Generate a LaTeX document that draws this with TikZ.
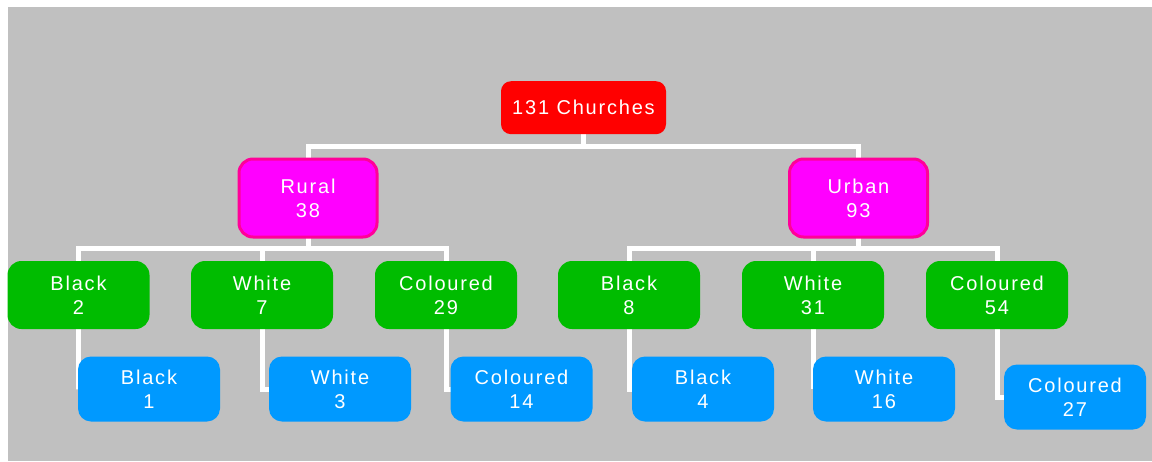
\documentclass[tikz,border=0pt]{standalone}
\usepackage{fontspec}
\setmainfont{Liberation Sans}
\newfontfamily\lsfont[LetterSpace=9]{Liberation Sans}
\definecolor{bggray}{HTML}{C0C0C0}
\definecolor{rootred}{HTML}{FF0000}
\definecolor{magfill}{HTML}{FF00FF}
\definecolor{magline}{HTML}{FF0099}
\definecolor{grn}{HTML}{00BC00}
\definecolor{blu}{HTML}{0099FF}
\pgfdeclarelayer{bglayer}
\pgfdeclarelayer{linelayer}
\pgfsetlayers{bglayer,linelayer,main}
\tikzset{
  box/.style={inner sep=0pt, outer sep=0pt, align=center, text=white,
    font=\lsfont\fontsize{20}{24}\selectfont},
  rootbox/.style={box, fill=rootred, rounded corners=10pt, minimum width=165pt, minimum height=53pt},
  midbox/.style={box, fill=magfill, draw=magline, line width=3pt, rounded corners=14pt, minimum width=138pt, minimum height=78pt},
  grnbox/.style={box, fill=grn, rounded corners=14pt, minimum width=142pt, minimum height=68pt},
  blubox/.style={box, fill=blu, rounded corners=13pt, minimum width=142pt, minimum height=65pt},
  conn/.style={draw=white, line width=5pt}
}
\begin{document}
\begin{tikzpicture}[x=1pt,y=-1pt]
\useasboundingbox (0,0) rectangle (1152,461);
\begin{pgfonlayer}{bglayer}
\fill[bggray] (8,7) rectangle (1152,461);
\end{pgfonlayer}
\node[rootbox] (root) at (583.5,107.7) {131 Churches};
\node[midbox] (rural) at (308,198) {Rural\\38};
\node[midbox] (urban) at (858.5,198) {Urban\\93};
\node[grnbox] (g1) at (78.5,295) {Black\\2};
\node[grnbox] (g2) at (262,295) {White\\7};
\node[grnbox] (g3) at (446,295) {Coloured\\29};
\node[grnbox] (g4) at (629,295) {Black\\8};
\node[grnbox] (g5) at (813,295) {White\\31};
\node[grnbox] (g6) at (997,295) {Coloured\\54};
\node[blubox] (b1) at (149,389) {Black\\1};
\node[blubox] (b2) at (340,389) {White\\3};
\node[blubox] (b3) at (521.5,389) {Coloured\\14};
\node[blubox] (b4) at (703,389) {Black\\4};
\node[blubox] (b5) at (884,389) {White\\16};
\node[blubox] (b6) at (1075,397) {Coloured\\27};
\begin{pgfonlayer}{linelayer}
\draw[conn] (root.south) -- ++(0,12) -| (rural.north);
\draw[conn] (root.south) -- ++(0,12) -| (urban.north);
\foreach \g in {g1,g2,g3}{\draw[conn] (rural.south) -- ++(0,11.5) -| (\g.north);}
\foreach \g in {g4,g5,g6}{\draw[conn] (urban.south) -- ++(0,11.5) -| (\g.north);}
\draw[conn] (g1.south) |- (b1.west);
\draw[conn] (g2.south) |- (b2.west);
\draw[conn] (g3.south) |- (b3.west);
\draw[conn] (g4.south) |- (b4.west);
\draw[conn] (g5.south) |- (b5.west);
\draw[conn] (g6.south) |- (b6.west);
\end{pgfonlayer}
\end{tikzpicture}
\end{document}
